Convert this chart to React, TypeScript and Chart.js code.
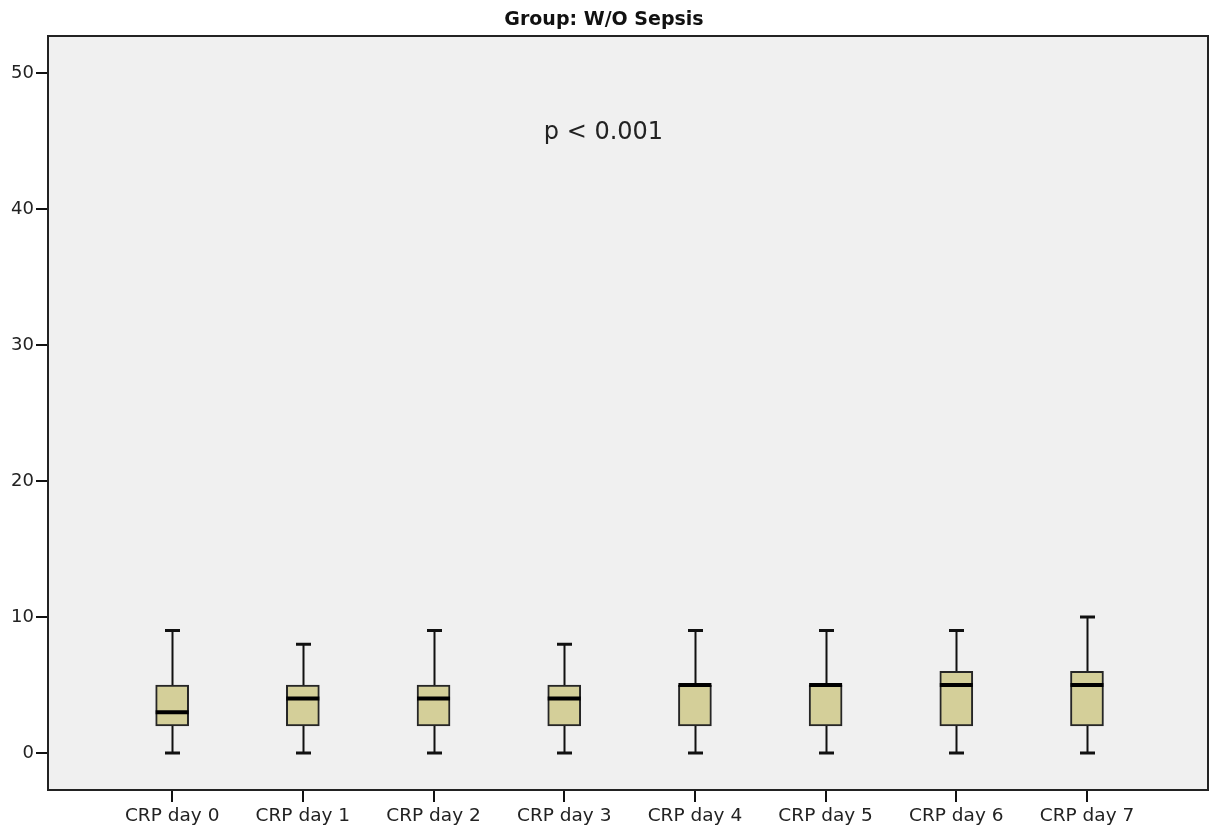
import React, { useEffect, useRef } from "react";
import { Chart, registerables } from "chart.js";

Chart.register(...registerables);

// CRP (mg/L) summary per day, group without sepsis
const categories = [
  "CRP day 0",
  "CRP day 1",
  "CRP day 2",
  "CRP day 3",
  "CRP day 4",
  "CRP day 5",
  "CRP day 6",
  "CRP day 7",
];
const whiskerLow = [0, 0, 0, 0, 0, 0, 0, 0];
const quartile1 = [2, 2, 2, 2, 2, 2, 2, 2];
const medians = [3, 4, 4, 4, 5, 5, 5, 5];
const quartile3 = [5, 5, 5, 5, 5, 5, 6, 6];
const whiskerHigh = [9, 8, 9, 8, 9, 9, 9, 10];
const yTickValues = [0, 10, 20, 30, 40, 50];

const TITLE = "Group: W/O Sepsis";
const P_LABEL = "p < 0.001";
const P_LABEL_AT = { x: 3.3, y: 45.6 };

const FONT = "'DejaVu Sans', 'Liberation Sans', Arial, sans-serif";
const BOX_FILL = "#d4cf99";
const INK = "#111111";

const boxPlotPlugin = {
  id: "boxPlotParts",
  beforeDraw(chart: any) {
    const { ctx, chartArea } = chart;
    ctx.save();
    ctx.fillStyle = "#f0f0f0";
    ctx.fillRect(
      chartArea.left,
      chartArea.top,
      chartArea.right - chartArea.left,
      chartArea.bottom - chartArea.top
    );
    ctx.restore();
  },
  beforeDatasetsDraw(chart: any) {
    const { ctx } = chart;
    const xs = chart.scales.x;
    const ys = chart.scales.y;
    ctx.save();
    ctx.strokeStyle = INK;
    categories.forEach((_, i) => {
      const x = Math.round(xs.getPixelForValue(i)) + 0.5;
      const capHalf = 7.5;
      // stems
      ctx.lineWidth = 2;
      ctx.beginPath();
      ctx.moveTo(x, ys.getPixelForValue(quartile3[i]));
      ctx.lineTo(x, ys.getPixelForValue(whiskerHigh[i]));
      ctx.moveTo(x, ys.getPixelForValue(quartile1[i]));
      ctx.lineTo(x, ys.getPixelForValue(whiskerLow[i]));
      ctx.stroke();
      // caps
      ctx.lineWidth = 3;
      ctx.beginPath();
      ctx.moveTo(x - capHalf, ys.getPixelForValue(whiskerHigh[i]));
      ctx.lineTo(x + capHalf, ys.getPixelForValue(whiskerHigh[i]));
      ctx.moveTo(x - capHalf, ys.getPixelForValue(whiskerLow[i]));
      ctx.lineTo(x + capHalf, ys.getPixelForValue(whiskerLow[i]));
      ctx.stroke();
    });
    ctx.restore();
  },
  afterDatasetsDraw(chart: any) {
    const { ctx, chartArea } = chart;
    const xs = chart.scales.x;
    const ys = chart.scales.y;
    const meta = chart.getDatasetMeta(0);
    ctx.save();
    // medians
    ctx.strokeStyle = "#000000";
    ctx.lineWidth = 4;
    meta.data.forEach((bar: any, i: number) => {
      const half = bar.width / 2;
      const y = ys.getPixelForValue(medians[i]);
      ctx.beginPath();
      ctx.moveTo(bar.x - half, y);
      ctx.lineTo(bar.x + half, y);
      ctx.stroke();
    });
    // top and right frame lines
    ctx.strokeStyle = "#222222";
    ctx.lineWidth = 2;
    ctx.beginPath();
    ctx.moveTo(chartArea.left, chartArea.top);
    ctx.lineTo(chartArea.right, chartArea.top);
    ctx.lineTo(chartArea.right, chartArea.bottom);
    ctx.stroke();
    // p-value annotation
    ctx.fillStyle = "#222222";
    ctx.font = `24px ${FONT}`;
    ctx.textAlign = "center";
    ctx.textBaseline = "middle";
    ctx.fillText(
      P_LABEL,
      xs.getPixelForValue(P_LABEL_AT.x),
      ys.getPixelForValue(P_LABEL_AT.y)
    );
    ctx.restore();
  },
};

export default function App() {
  const canvasRef = useRef<HTMLCanvasElement | null>(null);

  useEffect(() => {
    const canvas = canvasRef.current;
    if (!canvas) return;
    const chart = new Chart(canvas, {
      type: "bar",
      data: {
        datasets: [
          {
            data: categories.map((_, i) => ({
              x: i,
              y: [quartile1[i], quartile3[i]],
            })) as any,
            backgroundColor: BOX_FILL,
            borderColor: "#262626",
            borderWidth: 2,
            borderSkipped: false,
            barThickness: 33,
          },
        ],
      },
      plugins: [boxPlotPlugin],
      options: {
        responsive: false,
        animation: false,
        devicePixelRatio: 1,
        layout: { padding: { left: 0, right: 2, top: 0, bottom: 0 } },
        plugins: {
          legend: { display: false },
          tooltip: { enabled: false },
          title: {
            display: true,
            text: TITLE,
            color: "#111111",
            font: { family: FONT, size: 19, weight: "bold", lineHeight: 1.2 },
            padding: { top: 9, bottom: 4.2 },
          },
        },
        scales: {
          x: {
            type: "linear",
            offset: false,
            min: -0.95,
            max: 7.926,
            afterBuildTicks: (axis: any) => {
              axis.ticks = categories.map((_, i) => ({ value: i }));
            },
            afterFit: (axis: any) => {
              axis.height = 39;
            },
            ticks: {
              callback: (v: any) => categories[Math.round(Number(v))] ?? "",
              color: "#222222",
              font: { family: FONT, size: 18.5 },
              padding: 3,
              maxRotation: 0,
              autoSkip: false,
            },
            grid: {
              display: true,
              offset: false,
              drawOnChartArea: false,
              drawTicks: true,
              tickLength: 12,
              color: "#111111",
              lineWidth: 2,
            },
            border: { display: true, color: "#222222", width: 2 },
          },
          y: {
            type: "linear",
            min: -2.72,
            max: 52.72,
            afterBuildTicks: (axis: any) => {
              axis.ticks = yTickValues.map((v) => ({ value: v }));
            },
            afterFit: (axis: any) => {
              axis.width = 48;
            },
            ticks: {
              color: "#222222",
              font: { family: FONT, size: 18 },
              padding: 2,
            },
            grid: {
              display: true,
              drawOnChartArea: false,
              drawTicks: true,
              tickLength: 12,
              color: "#111111",
              lineWidth: 2,
            },
            border: { display: true, color: "#222222", width: 2 },
          },
        },
      },
    });
    return () => chart.destroy();
  }, []);

  return (
    <div style={{ position: "fixed", left: 0, top: 0, width: 1210, height: 829, background: "#ffffff" }}>
      <canvas ref={canvasRef} width={1210} height={829} />
    </div>
  );
}
